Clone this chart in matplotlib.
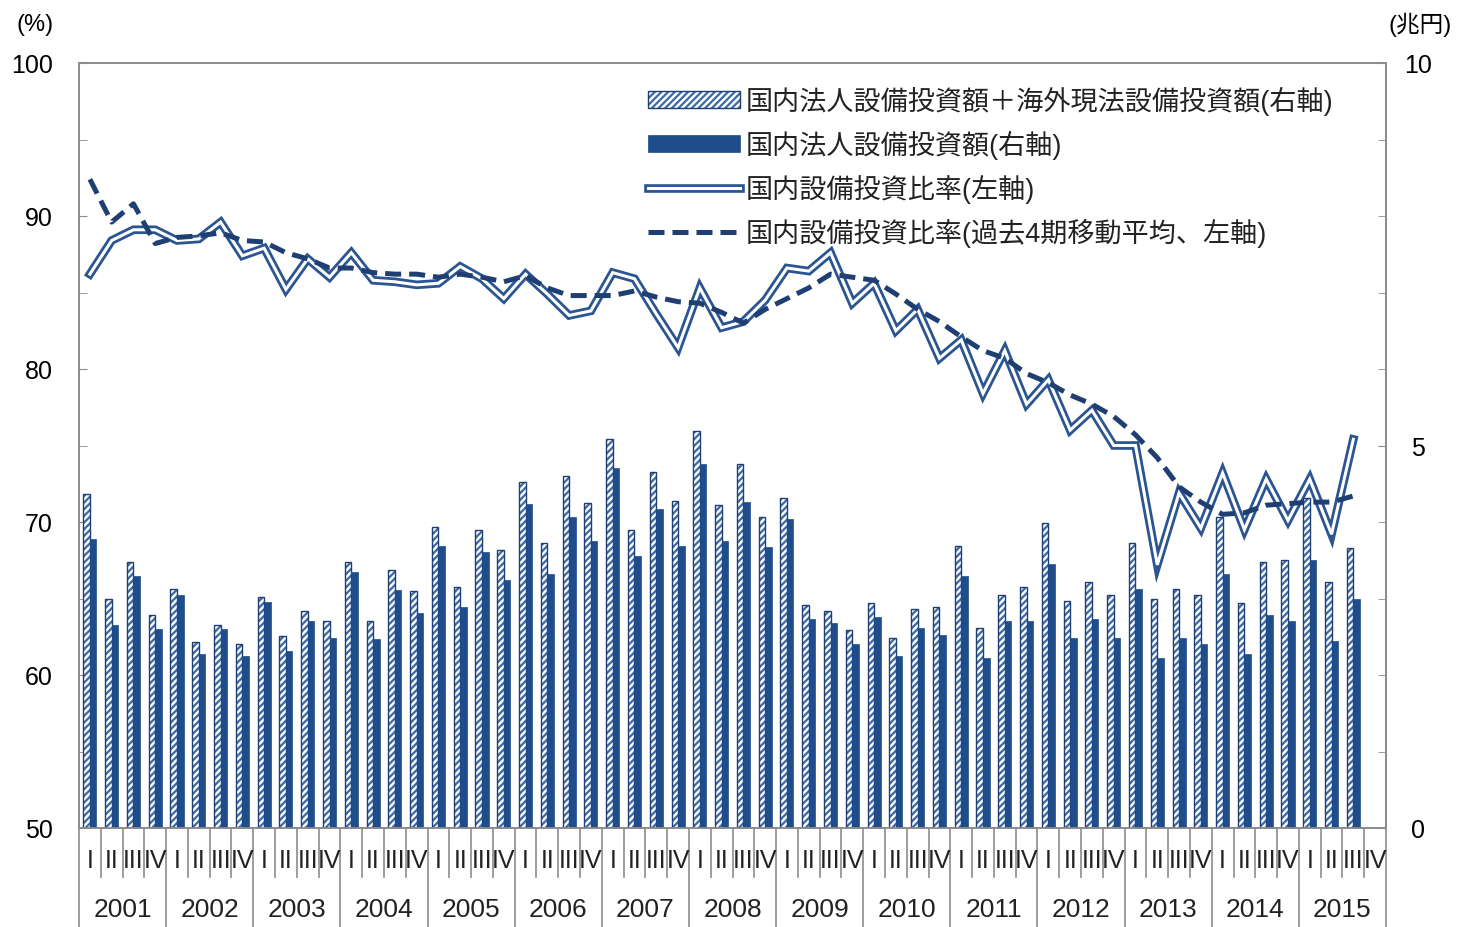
import matplotlib
matplotlib.use("Agg")
import matplotlib.pyplot as plt
import matplotlib.patheffects as pe
import numpy as np

plt.rcParams['font.family'] = ['Liberation Sans', 'Noto Sans CJK JP']
plt.rcParams['hatch.linewidth'] = 1.6

YEARS = [str(y) for y in range(2001, 2016)]
QUARTER_LABELS = ["I", "II", "III", "IV"]

# 兆円, right axis
TOTAL_CAPEX = [4.36, 3.00, 3.48, 2.78, 3.13, 2.43, 2.65, 2.40, 3.02, 2.51, 2.84, 2.70,
               3.48, 2.70, 3.37, 3.10, 3.93, 3.15, 3.90, 3.63, 4.52, 3.72, 4.60, 4.25,
               5.08, 3.90, 4.66, 4.28, 5.19, 4.22, 4.76, 4.06, 4.31, 2.92, 2.84, 2.59,
               2.94, 2.49, 2.86, 2.89, 3.69, 2.62, 3.05, 3.15, 3.99, 2.97, 3.21, 3.05,
               3.72, 3.00, 3.13, 3.05, 4.07, 2.94, 3.48, 3.50, 4.31, 3.21, 3.66]
DOMESTIC_CAPEX = [3.78, 2.65, 3.29, 2.60, 3.05, 2.28, 2.60, 2.25, 2.95, 2.31, 2.71, 2.49,
                  3.35, 2.47, 3.11, 2.81, 3.69, 2.89, 3.61, 3.24, 4.23, 3.32, 4.07, 3.75,
                  4.71, 3.56, 4.17, 3.69, 4.76, 3.75, 4.26, 3.67, 4.04, 2.73, 2.68, 2.41,
                  2.76, 2.25, 2.62, 2.52, 3.29, 2.22, 2.71, 2.71, 3.45, 2.49, 2.73, 2.49,
                  3.13, 2.22, 2.49, 2.41, 3.32, 2.28, 2.79, 2.71, 3.50, 2.44, 3.00]
# %, left axis
RATIO = [86.2, 88.4, 89.1, 89.1, 88.4, 88.5, 89.6, 87.4, 87.9, 85.2, 87.2, 86.0,
         87.6, 85.8, 85.7, 85.5, 85.6, 86.7, 85.9, 84.6, 86.2, 84.9, 83.5, 83.8,
         86.3, 85.9, 83.6, 81.4, 85.3, 82.7, 83.1, 84.5, 86.6, 86.4, 87.6, 84.3,
         85.6, 82.5, 83.9, 80.7, 81.9, 78.4, 81.2, 77.7, 79.3, 76.0, 77.3, 75.0,
         75.0, 67.2, 71.9, 69.6, 73.2, 69.5, 72.8, 70.1, 72.8, 69.2, 75.4]
RATIO_MA4 = [92.4, 89.6, 90.8, 88.2, 88.6, 88.7, 88.9, 88.4, 88.3, 87.6, 87.2, 86.6,
             86.6, 86.3, 86.2, 86.2, 86.0, 86.2, 86.0, 85.7, 86.1, 85.3, 84.8, 84.8,
             84.8, 85.1, 84.7, 84.4, 84.3, 83.7, 83.0, 83.9, 84.6, 85.3, 86.2, 86.0,
             85.8, 84.9, 83.9, 83.1, 82.1, 81.2, 80.7, 79.7, 79.1, 78.3, 77.7, 76.9,
             75.7, 74.2, 72.3, 71.3, 70.5, 70.6, 71.1, 71.2, 71.3, 71.3, 71.7]

NAVY = "#1f3f73"
BLUE = "#1f4c8a"
HATCH_BLUE = "#3a68a8"
GRAY = "#8c8c8c"
FS = 18

n_slots = len(YEARS) * 4
x = np.arange(len(RATIO)) + 0.5

fig = plt.figure(figsize=(14.6, 9.28), dpi=100)
ax = fig.add_axes([79 / 1460, 1 - 829 / 928, (1386 - 79) / 1460, (829 - 64) / 928])
ax2 = ax.twinx()

# lines on the left axis
ratio_line, = ax.plot(x, RATIO, color="white", lw=2.2, solid_joinstyle="miter",
                      path_effects=[pe.Stroke(linewidth=6.2, foreground="#2b5591"),
                                    pe.Normal()])
ma_line, = ax.plot(x, RATIO_MA4, color=NAVY, lw=3.6, dashes=(3.2, 1.6))

# bars on the right axis (drawn above the lines)
hatched = ax2.bar(x - 0.15, TOTAL_CAPEX, width=0.3, color="white",
                  edgecolor=HATCH_BLUE, hatch="/////", lw=0)
outline = ax2.bar(x - 0.15, TOTAL_CAPEX, width=0.3, fill=False, edgecolor=NAVY, lw=1.0)
solid = ax2.bar(x + 0.15, DOMESTIC_CAPEX, width=0.3, color=BLUE, edgecolor=BLUE, lw=0.5)

ax.set_xlim(0, n_slots)
ax.set_ylim(50, 100)
ax2.set_ylim(0, 10)

ax.set_yticks(np.arange(50, 101, 10))
ax.set_yticks(np.arange(50, 101, 5), minor=True)
ax2.set_yticks([0, 5, 10])
ax2.set_yticks(np.arange(0, 11, 1), minor=True)
ax.tick_params(axis="y", which="both", direction="in", length=6, color=GRAY,
               labelsize=FS, pad=19)
ax2.tick_params(axis="y", which="both", direction="in", length=6, color=GRAY,
                labelsize=FS, pad=23)
for lab in ax2.get_yticklabels():
    lab.set_horizontalalignment("center")

for a in (ax, ax2):
    for s in a.spines.values():
        s.set_color(GRAY)
        s.set_linewidth(1.3)

# category axis: quarters and years
ax.set_xticks([])
trans = ax.get_xaxis_transform()
for i in range(n_slots):
    ax.text(i + 0.5, -0.042, QUARTER_LABELS[i % 4], transform=trans, ha="center",
            va="center", fontsize=FS, color="#222222")
for i in range(n_slots + 1):
    depth = -0.13 if i % 4 == 0 else -0.064
    ax.plot([i, i], [0, depth], transform=trans, color=GRAY, lw=1.2, clip_on=False)
for k, yr in enumerate(YEARS):
    ax.text(4 * k + 2, -0.106, yr, transform=trans, ha="center", va="center",
            fontsize=FS + 1, color="#222222")

fig.text(35 / 1460, 1 - 25 / 928, "(%)", ha="center", va="center", fontsize=FS - 1)
fig.text(1420 / 1460, 1 - 25 / 928, "(兆円)", ha="center", va="center", fontsize=FS - 1)

handles = [(hatched, outline), solid, ratio_line, ma_line]
labels = ["国内法人設備投資額＋海外現法設備投資額(右軸)",
          "国内法人設備投資額(右軸)",
          "国内設備投資比率(左軸)",
          "国内設備投資比率(過去4期移動平均、左軸)"]
leg = ax2.legend(handles, labels, loc="upper left",
                 bbox_to_anchor=(648 / 1460, 1 - 87 / 928), bbox_transform=fig.transFigure,
                 frameon=False, fontsize=19.5, handlelength=3.4, handletextpad=0.2,
                 labelspacing=0.55, borderpad=0, borderaxespad=0, handleheight=0.6)
for t in leg.get_texts():
    t.set_color("#222222")

fig.savefig("out.png", dpi=100)
